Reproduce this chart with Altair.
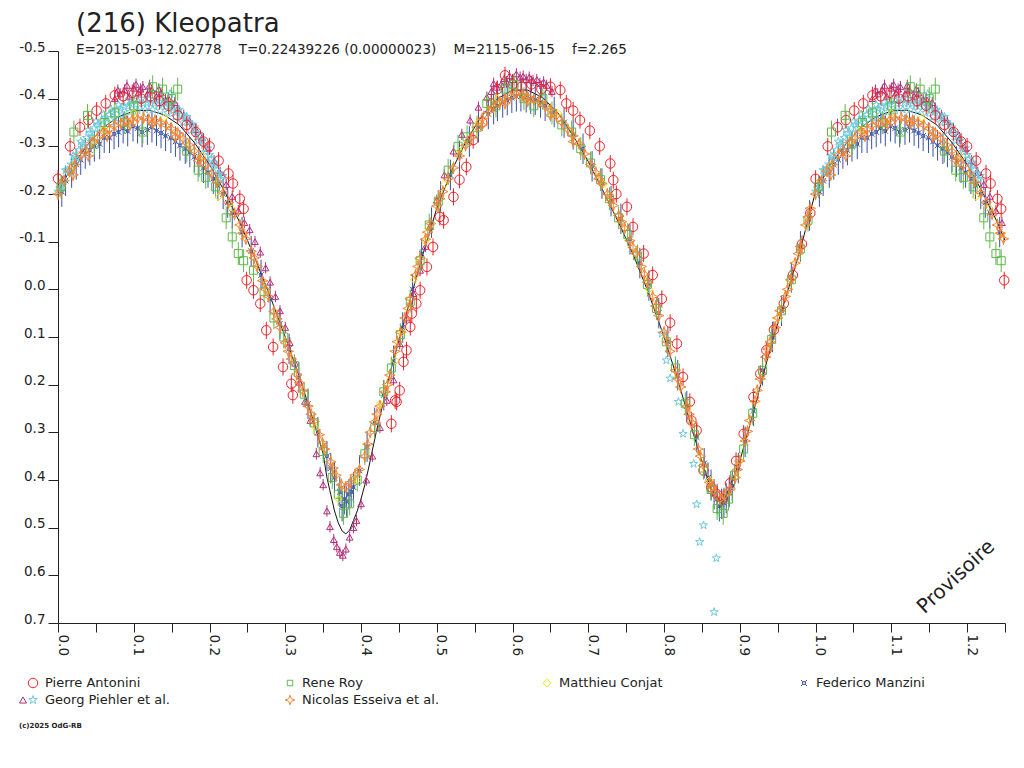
import altair as alt
import pandas as pd

# ------------------------------------------------------------------
# Axis ticks / texts
# ------------------------------------------------------------------
x_ticks = [0.0, 0.05, 0.1, 0.15, 0.2, 0.25, 0.3, 0.35, 0.4, 0.45, 0.5, 0.55, 0.6,
           0.65, 0.7, 0.75, 0.8, 0.85, 0.9, 0.95, 1.0, 1.05, 1.1, 1.15, 1.2, 1.25]
y_ticks = [-0.5, -0.4, -0.3, -0.2, -0.1, 0.0, 0.1, 0.2, 0.3, 0.4, 0.5, 0.6, 0.7]
title_text = "(216) Kleopatra"
subtitle_text = "E=2015-03-12.02778    T=0.22439226 (0.00000023)    M=2115-06-15    f=2.265"
watermark_text = "Provisoire"
copyright_text = "(c)2025 OdG-RB"

legend_labels = ["Pierre Antonini", "Rene Roy", "Matthieu Conjat", "Federico Manzini",
                 "Georg Piehler et al.", "Nicolas Esseiva et al."]
legend_col = [0, 1, 2, 3, 0, 1]
legend_row = [0, 0, 0, 0, 1, 1]

# ------------------------------------------------------------------
# Data (phase, relative magnitude)
# ------------------------------------------------------------------
antonini_phase = [0.000, 0.016, 0.029, 0.040, 0.051, 0.063, 0.075, 0.086, 0.098, 0.110,
                  0.122, 0.134, 0.146, 0.158, 0.170, 0.182, 0.192, 0.200, 0.212, 0.225,
                  0.231, 0.240, 0.245, 0.249, 0.258, 0.267, 0.275, 0.284, 0.297, 0.308,
                  0.310, 0.440, 0.445, 0.447, 0.451, 0.456, 0.460, 0.465, 0.467, 0.473,
                  0.478, 0.487, 0.495, 0.504, 0.509, 0.522, 0.530, 0.539, 0.548, 0.560,
                  0.572, 0.580, 0.590, 0.600, 0.612, 0.625, 0.638, 0.650, 0.663, 0.671,
                  0.680, 0.689, 0.702, 0.715, 0.729, 0.733, 0.737, 0.751, 0.759, 0.773,
                  0.785, 0.797, 0.808, 0.817, 0.825, 0.834, 0.836, 0.843, 0.852, 0.862,
                  0.870, 0.878, 0.887, 0.895, 0.905, 0.918, 0.927, 0.935, 0.945, 0.958,
                  0.970, 0.982, 0.993]
antonini_mag = [-0.232, -0.300, -0.340, -0.355, -0.375, -0.390, -0.407, -0.405, -0.412, -0.400,
                -0.405, -0.395, -0.385, -0.365, -0.345, -0.330, -0.310, -0.300, -0.270, -0.243,
                -0.222, -0.190, -0.169, -0.019, 0.002, 0.030, 0.086, 0.121, 0.163, 0.198,
                0.222, 0.282, 0.233, 0.236, 0.212, 0.152, 0.128, 0.079, 0.051, 0.030,
                0.002, -0.047, -0.089, -0.152, -0.145, -0.194, -0.230, -0.257, -0.313, -0.350,
                -0.390, -0.420, -0.449, -0.430, -0.425, -0.430, -0.420, -0.425, -0.418, -0.390,
                -0.375, -0.355, -0.333, -0.300, -0.264, -0.229, -0.200, -0.173, -0.131, -0.075,
                -0.030, 0.020, 0.070, 0.114, 0.184, 0.236, 0.275, 0.296, 0.380, 0.415,
                0.430, 0.440, 0.407, 0.360, 0.303, 0.226, 0.177, 0.128, 0.085, 0.030,
                -0.030, -0.095, -0.160]

roy_phase = [0.004, 0.021, 0.039, 0.048, 0.062, 0.075, 0.088, 0.100, 0.112, 0.125,
             0.138, 0.150, 0.158, 0.170, 0.185, 0.195, 0.208, 0.222, 0.230, 0.238,
             0.245, 0.258, 0.272, 0.285, 0.298, 0.312, 0.325, 0.338, 0.350, 0.362,
             0.370, 0.377, 0.385, 0.395, 0.405, 0.418, 0.430, 0.440, 0.452, 0.465,
             0.478, 0.490, 0.502, 0.515, 0.528, 0.540, 0.553, 0.566, 0.578, 0.590,
             0.602, 0.615, 0.628, 0.640, 0.652, 0.665, 0.678, 0.690, 0.703, 0.716,
             0.728, 0.740, 0.752, 0.765, 0.778, 0.790, 0.803, 0.815, 0.828, 0.840,
             0.852, 0.862, 0.870, 0.878, 0.885, 0.893, 0.905, 0.917, 0.930, 0.942,
             0.955, 0.968, 0.980, 0.990]
roy_mag = [-0.215, -0.330, -0.365, -0.305, -0.350, -0.370, -0.350, -0.385, -0.330, -0.425,
           -0.420, -0.400, -0.420, -0.290, -0.250, -0.235, -0.215, -0.150, -0.110, -0.075,
           -0.060, -0.040, 0.005, 0.060, 0.100, 0.160, 0.220, 0.280, 0.340, 0.395,
           0.430, 0.470, 0.450, 0.400, 0.345, 0.290, 0.215, 0.165, 0.095, 0.025,
           -0.060, -0.135, -0.185, -0.250, -0.300, -0.320, -0.340, -0.390, -0.385, -0.420,
           -0.430, -0.400, -0.385, -0.400, -0.370, -0.345, -0.330, -0.295, -0.265, -0.230,
           -0.190, -0.150, -0.115, -0.070, -0.010, 0.040, 0.110, 0.165, 0.240, 0.305,
           0.375, 0.420, 0.460, 0.470, 0.440, 0.390, 0.335, 0.260, 0.170, 0.105,
           0.045, -0.020, -0.085, -0.145]

conjat_phase = [0.020, 0.060, 0.100, 0.140, 0.190, 0.212, 0.230, 0.340, 0.370, 0.395,
                0.425, 0.435, 0.445, 0.455, 0.470, 0.485, 0.510, 0.530, 0.555, 0.580,
                0.615, 0.660, 0.720, 0.780, 0.860, 0.900, 0.950]
conjat_mag = [-0.260, -0.335, -0.370, -0.360, -0.280, -0.194, -0.170, 0.290, 0.440, 0.400,
              0.240, 0.200, 0.150, 0.090, -0.020, -0.100, -0.220, -0.290, -0.350, -0.400,
              -0.400, -0.370, -0.220, 0.000, 0.400, 0.360, 0.060]

manzini_phase = [0.005, 0.018, 0.030, 0.042, 0.055, 0.068, 0.080, 0.092, 0.105, 0.118,
                 0.130, 0.142, 0.155, 0.168, 0.180, 0.192, 0.205, 0.218, 0.230, 0.243,
                 0.255, 0.268, 0.280, 0.293, 0.305, 0.318, 0.330, 0.343, 0.355, 0.365,
                 0.372, 0.378, 0.384, 0.390, 0.398, 0.408, 0.418, 0.430, 0.443, 0.455,
                 0.468, 0.480, 0.493, 0.505, 0.518, 0.530, 0.543, 0.555, 0.568, 0.580,
                 0.593, 0.605, 0.618, 0.630, 0.643, 0.655, 0.668, 0.680, 0.693, 0.705,
                 0.718, 0.730, 0.743, 0.755, 0.768, 0.780, 0.793, 0.805, 0.818, 0.830,
                 0.843, 0.853, 0.862, 0.870, 0.876, 0.882, 0.890, 0.898, 0.907, 0.918,
                 0.930, 0.943, 0.955, 0.968, 0.980, 0.992,
                 0.010, 0.024, 0.036, 0.048, 0.061, 0.074, 0.086, 0.099, 0.111, 0.124,
                 0.136, 0.149, 0.161, 0.174, 0.186, 0.198, 0.211, 0.224,
                 0.360, 0.375, 0.381, 0.387, 0.858, 0.866, 0.873, 0.879, 0.886,
                 0.575, 0.587, 0.599, 0.611, 0.624, 0.637]
manzini_mag = [-0.205, -0.245, -0.272, -0.292, -0.305, -0.318, -0.330, -0.332, -0.338, -0.335,
               -0.333, -0.322, -0.310, -0.295, -0.278, -0.255, -0.232, -0.200, -0.160, -0.120,
               -0.080, -0.030, 0.020, 0.072, 0.125, 0.185, 0.240, 0.300, 0.350, 0.395,
               0.425, 0.440, 0.430, 0.415, 0.380, 0.330, 0.280, 0.222, 0.150, 0.080,
               0.000, -0.075, -0.140, -0.195, -0.240, -0.280, -0.310, -0.340, -0.368, -0.385,
               -0.397, -0.405, -0.403, -0.398, -0.385, -0.372, -0.350, -0.325, -0.295, -0.258,
               -0.222, -0.185, -0.148, -0.105, -0.055, -0.008, 0.050, 0.110, 0.180, 0.245,
               0.310, 0.365, 0.410, 0.440, 0.450, 0.438, 0.412, 0.375, 0.320, 0.255,
               0.170, 0.100, 0.045, -0.025, -0.090, -0.155,
               -0.228, -0.262, -0.285, -0.300, -0.318, -0.326, -0.338, -0.342, -0.330, -0.340,
               -0.328, -0.318, -0.302, -0.288, -0.268, -0.245, -0.218, -0.182,
               0.375, 0.455, 0.445, 0.425, 0.395, 0.430, 0.455, 0.448, 0.425,
               -0.378, -0.392, -0.402, -0.405, -0.400, -0.392]

piehler_tri_phase = [0.075, 0.082, 0.088, 0.094, 0.100, 0.106, 0.112, 0.118, 0.124, 0.130,
                     0.136, 0.142, 0.150, 0.158, 0.166, 0.174, 0.182, 0.190, 0.198, 0.206,
                     0.214, 0.222, 0.230, 0.238, 0.246, 0.253, 0.260, 0.267, 0.274, 0.280,
                     0.287, 0.293, 0.300, 0.306, 0.313, 0.319, 0.326, 0.333, 0.341, 0.346,
                     0.350, 0.355, 0.359, 0.364, 0.368, 0.372, 0.376, 0.380, 0.385, 0.390,
                     0.394, 0.400, 0.407, 0.415, 0.425, 0.434, 0.443, 0.451, 0.460, 0.469,
                     0.478, 0.485, 0.491, 0.500, 0.510, 0.522, 0.533, 0.544, 0.555, 0.566,
                     0.572, 0.579, 0.585, 0.592, 0.600, 0.610, 0.618, 0.627, 0.636, 0.645,
                     0.652, 0.079, 0.091, 0.103, 0.109, 0.121, 0.133, 0.146, 0.154, 0.575,
                     0.589, 0.596, 0.605, 0.614, 0.622, 0.632, 0.641]
piehler_tri_mag = [-0.400, -0.410, -0.418, -0.405, -0.422, -0.412, -0.425, -0.410, -0.418, -0.405,
                   -0.412, -0.398, -0.392, -0.380, -0.365, -0.352, -0.335, -0.318, -0.295, -0.270,
                   -0.245, -0.220, -0.195, -0.165, -0.140, -0.125, -0.100, -0.078, -0.045, -0.015,
                   0.015, 0.045, 0.080, 0.112, 0.155, 0.195, 0.235, 0.275, 0.345, 0.385,
                   0.410, 0.465, 0.498, 0.525, 0.540, 0.552, 0.558, 0.545, 0.520, 0.500,
                   0.485, 0.450, 0.400, 0.350, 0.290, 0.233, 0.190, 0.114, 0.060, 0.009,
                   -0.040, -0.090, -0.131, -0.187, -0.240, -0.290, -0.325, -0.355, -0.382, -0.403,
                   -0.415, -0.424, -0.430, -0.435, -0.440, -0.445, -0.440, -0.438, -0.432, -0.428,
                   -0.415, -0.418, -0.428, -0.430, -0.420, -0.428, -0.420, -0.400, -0.392, -0.432,
                   -0.442, -0.448, -0.452, -0.447, -0.445, -0.440, -0.435]

piehler_star_phase = [0.000, 0.010, 0.020, 0.030, 0.040, 0.050, 0.060, 0.070, 0.080, 0.090,
                      0.100, 0.110, 0.120, 0.130, 0.140, 0.150, 0.160, 0.170, 0.180, 0.190,
                      0.200, 0.210,
                      0.005, 0.015, 0.025, 0.035, 0.045, 0.055, 0.065, 0.075, 0.085, 0.095,
                      0.105, 0.115, 0.125, 0.135, 0.145, 0.155, 0.165, 0.175, 0.185, 0.195,
                      0.205, 0.215,
                      0.0025, 0.0125, 0.0225, 0.0325, 0.0425, 0.0525, 0.0625, 0.0725, 0.0825, 0.0925,
                      0.1025, 0.1125, 0.1225, 0.1325, 0.1425, 0.1525, 0.1625, 0.1725, 0.1825, 0.1925,
                      0.2025, 0.2125,
                      0.0075, 0.0175, 0.0275, 0.0375, 0.0475, 0.0575, 0.0675, 0.0775, 0.0875, 0.0975,
                      0.1075, 0.1175, 0.1275, 0.1375, 0.1475, 0.1575, 0.1675, 0.1775, 0.1875, 0.1975,
                      0.2075, 0.2175,
                      0.148, 0.797, 0.803, 0.808, 0.819, 0.825, 0.839, 0.843, 0.847, 0.852,
                      0.866, 0.869]
piehler_star_mag = [-0.205, -0.250, -0.280, -0.310, -0.335, -0.352, -0.367, -0.378, -0.387, -0.393,
                    -0.397, -0.399, -0.400, -0.398, -0.394, -0.387, -0.377, -0.362, -0.340, -0.312,
                    -0.282, -0.250,
                    -0.215, -0.245, -0.275, -0.300, -0.320, -0.338, -0.350, -0.360, -0.367, -0.372,
                    -0.375, -0.377, -0.377, -0.375, -0.370, -0.362, -0.350, -0.333, -0.312, -0.288,
                    -0.262, -0.232,
                    -0.212, -0.250, -0.278, -0.305, -0.328, -0.346, -0.360, -0.371, -0.379, -0.384,
                    -0.388, -0.390, -0.390, -0.388, -0.384, -0.376, -0.365, -0.350, -0.328, -0.302,
                    -0.274, -0.243,
                    -0.228, -0.262, -0.292, -0.318, -0.338, -0.354, -0.366, -0.376, -0.382, -0.387,
                    -0.389, -0.391, -0.390, -0.388, -0.383, -0.374, -0.362, -0.346, -0.322, -0.296,
                    -0.266, -0.238,
                    -0.410, 0.093, 0.149, 0.187, 0.236, 0.303, 0.366, 0.451, 0.530, 0.495,
                    0.677, 0.564]

esseiva_phase = [0.000, 0.008, 0.015, 0.022, 0.030, 0.037, 0.045, 0.052, 0.060, 0.068,
                 0.075, 0.083, 0.090, 0.098, 0.105, 0.113, 0.120, 0.128, 0.135, 0.143,
                 0.150, 0.158, 0.165, 0.173, 0.180, 0.188, 0.195, 0.203, 0.210, 0.218,
                 0.225, 0.233, 0.240, 0.248, 0.255, 0.263, 0.270, 0.278, 0.285, 0.293,
                 0.300, 0.308, 0.315, 0.323, 0.330, 0.338, 0.345, 0.352, 0.360, 0.367,
                 0.374, 0.380, 0.386, 0.392, 0.398, 0.405, 0.412, 0.418, 0.425, 0.432,
                 0.438, 0.445, 0.452, 0.458, 0.465, 0.472, 0.478, 0.485, 0.492, 0.500,
                 0.508, 0.515, 0.522, 0.530, 0.538, 0.545, 0.553, 0.560, 0.568, 0.575,
                 0.583, 0.590, 0.598, 0.605, 0.613, 0.620, 0.628, 0.635, 0.643, 0.650,
                 0.658, 0.665, 0.673, 0.680, 0.688, 0.695, 0.703, 0.710, 0.718, 0.725,
                 0.733, 0.740, 0.748, 0.755, 0.763, 0.770, 0.778, 0.785, 0.793, 0.800,
                 0.808, 0.815, 0.822, 0.830, 0.837, 0.845, 0.852, 0.860, 0.867, 0.874,
                 0.880, 0.887, 0.894, 0.900, 0.907, 0.913, 0.920, 0.927, 0.934, 0.940,
                 0.947, 0.953, 0.960, 0.967, 0.973, 0.980, 0.987, 0.993,
                 0.244, 0.259, 0.274, 0.289, 0.304, 0.319, 0.334, 0.349, 0.363,
                 0.409, 0.421, 0.435, 0.448, 0.462, 0.475, 0.488, 0.504,
                 0.714, 0.729, 0.744, 0.759, 0.774, 0.789, 0.804, 0.818, 0.833, 0.848, 0.863,
                 0.897, 0.910, 0.923, 0.937, 0.950, 0.963, 0.977, 0.990,
                 0.020, 0.040, 0.065, 0.095, 0.125, 0.155, 0.185, 0.560, 0.590, 0.620,
                 0.650, 0.680]
esseiva_mag = [-0.200, -0.228, -0.248, -0.262, -0.282, -0.292, -0.308, -0.318, -0.330, -0.336,
               -0.344, -0.348, -0.353, -0.356, -0.358, -0.360, -0.356, -0.354, -0.350, -0.344,
               -0.337, -0.328, -0.316, -0.303, -0.290, -0.274, -0.260, -0.243, -0.225, -0.203,
               -0.182, -0.158, -0.135, -0.106, -0.080, -0.048, -0.018, 0.015, 0.046, 0.080,
               0.112, 0.146, 0.178, 0.213, 0.245, 0.277, 0.305, 0.335, 0.362, 0.390,
               0.410, 0.415, 0.405, 0.390, 0.378, 0.350, 0.300, 0.278, 0.245, 0.215,
               0.180, 0.130, 0.090, 0.060, 0.020, -0.030, -0.065, -0.105, -0.138, -0.175,
               -0.205, -0.232, -0.255, -0.280, -0.302, -0.318, -0.340, -0.358, -0.372, -0.383,
               -0.392, -0.399, -0.405, -0.410, -0.408, -0.404, -0.398, -0.393, -0.385, -0.377,
               -0.364, -0.350, -0.335, -0.322, -0.305, -0.284, -0.262, -0.245, -0.222, -0.200,
               -0.176, -0.155, -0.128, -0.102, -0.075, -0.048, -0.015, 0.015, 0.055, 0.090,
               0.130, 0.170, 0.205, 0.245, 0.280, 0.335, 0.370, 0.405, 0.425, 0.440,
               0.432, 0.420, 0.395, 0.360, 0.318, 0.275, 0.235, 0.188, 0.142, 0.110,
               0.080, 0.045, 0.015, -0.020, -0.055, -0.090, -0.135, -0.170,
               -0.118, -0.066, 0.000, 0.062, 0.130, 0.196, 0.262, 0.322, 0.375,
               0.325, 0.262, 0.200, 0.110, 0.040, -0.048, -0.120, -0.190,
               -0.232, -0.188, -0.142, -0.088, -0.032, 0.035, 0.110, 0.188, 0.262, 0.350, 0.415,
               0.378, 0.298, 0.212, 0.125, 0.060, 0.000, -0.075, -0.152,
               -0.240, -0.280, -0.322, -0.345, -0.348, -0.320, -0.270, -0.345, -0.390, -0.395,
               -0.365, -0.310]

# fitted curve (black)
fit_phase = [0.00, 0.02, 0.04, 0.06, 0.08, 0.10, 0.12, 0.14, 0.16, 0.18,
             0.20, 0.22, 0.24, 0.25, 0.26, 0.28, 0.30, 0.32, 0.34, 0.35, 0.355,
             0.36, 0.365, 0.37, 0.375, 0.38, 0.385, 0.39, 0.395, 0.40, 0.405,
             0.41, 0.42, 0.44, 0.46, 0.48, 0.50, 0.52, 0.54, 0.56, 0.58,
             0.60, 0.62, 0.64, 0.66, 0.68, 0.70, 0.72, 0.74, 0.76, 0.78,
             0.80, 0.82, 0.84, 0.86, 0.87, 0.88, 0.90, 0.92, 0.94, 0.96,
             0.98]
fit_mag = [-0.205, -0.262, -0.305, -0.340, -0.362, -0.374, -0.376, -0.366, -0.345, -0.308,
           -0.262, -0.205, -0.140, -0.103, -0.065, 0.015, 0.100, 0.190, 0.290, 0.345, 0.395,
           0.430, 0.465, 0.490, 0.507, 0.513, 0.505, 0.485, 0.465, 0.440, 0.410,
           0.375, 0.300, 0.165, 0.050, -0.065, -0.170, -0.250, -0.315, -0.365, -0.400,
           -0.418, -0.418, -0.402, -0.370, -0.322, -0.268, -0.205, -0.140, -0.070, 0.010,
           0.100, 0.200, 0.310, 0.410, 0.445, 0.440, 0.360, 0.245, 0.125, 0.020,
           -0.085]

# typical half-length of the error bars of each observer (magnitudes)
typical_error = {"antonini": 0.018, "roy": 0.024, "manzini": 0.032,
                 "piehler_tri": 0.012, "esseiva": 0.013}

# ------------------------------------------------------------------
# Styles
# ------------------------------------------------------------------
FONT = "DejaVu Sans"
INK = "#222222"
RED = "#EC2227"
GREEN = "#5DB948"
YELLOW = "#F2E600"
BLUE = "#3A51A2"
PURPLE = "#B0307C"
CYAN = "#6DCADB"
ORANGE = "#F58531"

STAR = ("M0,-1L0.2245,-0.309L0.951,-0.309L0.363,0.118L0.588,0.809L0,0.382"
        "L-0.588,0.809L-0.363,0.118L-0.951,-0.309L-0.2245,-0.309Z")
SPARK = ("M0,-1L0.28,-0.28L1,0L0.28,0.28L0,1L-0.28,0.28L-1,0L-0.28,-0.28Z")
CURRENCY = ("M-0.45,-0.45L0.45,-0.45L0.45,0.45L-0.45,0.45Z"
            "M-1,-1L-0.45,-0.45M1,-1L0.45,-0.45M1,1L0.45,0.45M-1,1L-0.45,0.45")

W, H = 947, 572

XS = alt.Scale(domain=[0, 1.25], nice=False, zero=False)
YS = alt.Scale(domain=[-0.5, 0.7], reverse=True, nice=False, zero=False)

XAX = alt.Axis(values=x_ticks, title=None, grid=False,
               labelExpr="round(datum.value * 20) % 2 == 0 ? format(datum.value, '.1f') : ''",
               labelAngle=90, labelAlign="left", labelBaseline="middle",
               labelOffset=4, labelPadding=2, tickSize=9, labelFlush=False,
               labelOverlap=False, labelFont=FONT, labelFontSize=13.5,
               labelColor=INK, tickColor=INK, domainColor=INK)
YAX = alt.Axis(values=y_ticks, title=None, grid=False,
               labelExpr="replace(format(datum.value, '.1f'), '\u2212', '-')",
               labelBaseline="alphabetic", labelAlign="right", labelPadding=3,
               tickSize=10, labelFlush=False, labelOverlap=False,
               labelFont=FONT, labelFontSize=13.5, labelColor=INK,
               tickColor=INK, domainColor=INK)

X = alt.X("phase:Q", scale=XS, axis=XAX)
Y = alt.Y("mag:Q", scale=YS, axis=YAX)


def frame(phase, mag, err=0.0):
    assert len(phase) == len(mag)
    df = pd.DataFrame({"phase": phase, "mag": mag})
    wrap = df[df["phase"] <= 0.25].copy()
    wrap["phase"] = wrap["phase"] + 1.0
    df = pd.concat([df, wrap], ignore_index=True)
    df["lo"] = df["mag"] - err
    df["hi"] = df["mag"] + err
    return df


def series(df, color, shape, size, bars):
    base = alt.Chart(df)
    out = []
    if bars:
        out.append(base.mark_rule(color=color, strokeWidth=1).encode(
            x=X, y=alt.Y("lo:Q", scale=YS, axis=YAX), y2="hi:Q"))
    out.append(base.mark_point(shape=shape, size=size, color=color, filled=False,
                               strokeWidth=1, opacity=1).encode(x=X, y=Y))
    return out


fit_df = frame(fit_phase, fit_mag)
fit_line = alt.Chart(fit_df).mark_line(color="#111111", strokeWidth=1.0).encode(
    x=X, y=Y, order="phase:Q")

layers = [fit_line]
layers += series(frame(manzini_phase, manzini_mag, typical_error["manzini"]), BLUE, CURRENCY, 30, True)
layers += series(frame(piehler_tri_phase, piehler_tri_mag, typical_error["piehler_tri"]), PURPLE, "triangle-up", 45, True)
layers += series(frame(piehler_star_phase, piehler_star_mag), CYAN, STAR, 75, False)
layers += series(frame(antonini_phase, antonini_mag, typical_error["antonini"]), RED, "circle", 90, True)
layers += series(frame(roy_phase, roy_mag, typical_error["roy"]), GREEN, "square", 64, True)
layers += series(frame(conjat_phase, conjat_mag), YELLOW, "diamond", 50, False)
layers += series(frame(esseiva_phase, esseiva_mag, typical_error["esseiva"]), ORANGE, SPARK, 110, True)

main = alt.layer(*layers)

# ------------------------------------------------------------------
# Legend (own scales placed below the plot) and texts
# ------------------------------------------------------------------
legend_style = {
    "Pierre Antonini": (RED, "circle", 90),
    "Rene Roy": (GREEN, "square", 30),
    "Matthieu Conjat": (YELLOW, "diamond", 60),
    "Federico Manzini": (BLUE, CURRENCY, 36),
    "Georg Piehler et al.": (CYAN, STAR, 80),
    "Nicolas Esseiva et al.": (ORANGE, SPARK, 90),
}
leg = pd.DataFrame({"label": legend_labels, "col": legend_col, "row": legend_row})
leg["color"] = [legend_style[n][0] for n in legend_labels]
leg["shape"] = [legend_style[n][1] for n in legend_labels]
leg["size"] = [legend_style[n][2] for n in legend_labels]

LXS = alt.Scale(domain=[0, 3], range=[-25, 746])
LX = alt.X("col:Q", scale=LXS, axis=None)
LY = alt.Y("row:Q", scale=alt.Scale(domain=[0, 1], range=[632, 649]), axis=None)

leg_sym = alt.Chart(leg).mark_point(filled=False, strokeWidth=1, opacity=1).encode(
    x=LX, y=LY,
    color=alt.Color("color:N", scale=None),
    shape=alt.Shape("shape:N", scale=None),
    size=alt.Size("size:Q", scale=None))
# second symbol of the Georg Piehler entry, a little to the left of the star
leg_tri = alt.Chart(leg[leg["label"] == "Georg Piehler et al."]).transform_calculate(
    col_tri="datum.col - 10 / 257"
).mark_point(
    shape="triangle-up", color=PURPLE, size=50, filled=False, strokeWidth=1,
    opacity=1).encode(x=alt.X("col_tri:Q", scale=LXS, axis=None), y=LY)
leg_txt = alt.Chart(leg).mark_text(align="left", baseline="middle", dx=12,
                                   font=FONT, fontSize=13, color=INK).encode(
    x=LX, y=LY, text="label:N")

NBSP = "\u00a0"
title_mark = alt.Chart(pd.DataFrame({"t": [title_text]})).mark_text(
    align="left", baseline="alphabetic", font=FONT, fontSize=26, color=INK).encode(
    text="t:N", x=alt.value(18), y=alt.value(-19))
subtitle_mark = alt.Chart(pd.DataFrame({"t": [subtitle_text.replace(" ", NBSP)]})).mark_text(
    align="left", baseline="alphabetic", font=FONT, fontSize=13.5, color=INK).encode(
    text="t:N", x=alt.value(18), y=alt.value(3))
water_mark = alt.Chart(pd.DataFrame({"t": [watermark_text]})).mark_text(
    align="center", baseline="middle", font=FONT, fontSize=20, angle=317, color=INK).encode(
    text="t:N", x=alt.value(898), y=alt.value(526))
copy_mark = alt.Chart(pd.DataFrame({"t": [copyright_text]})).mark_text(
    align="left", baseline="middle", font=FONT, fontSize=7, fontWeight="bold", color=INK).encode(
    text="t:N", x=alt.value(-39), y=alt.value(675))

legend = alt.layer(leg_sym, leg_tri, leg_txt, title_mark, subtitle_mark, water_mark, copy_mark)

chart = alt.layer(main, legend).resolve_scale(
    x="independent", y="independent"
).properties(
    width=W, height=H,
    autosize=alt.AutoSizeParams(type="none"),
    padding={"left": 50, "top": 43, "right": 11, "bottom": 137},
    background="white",
).configure_view(stroke=None)

chart.save("out.html", embed_options={"renderer": "svg", "actions": False})
